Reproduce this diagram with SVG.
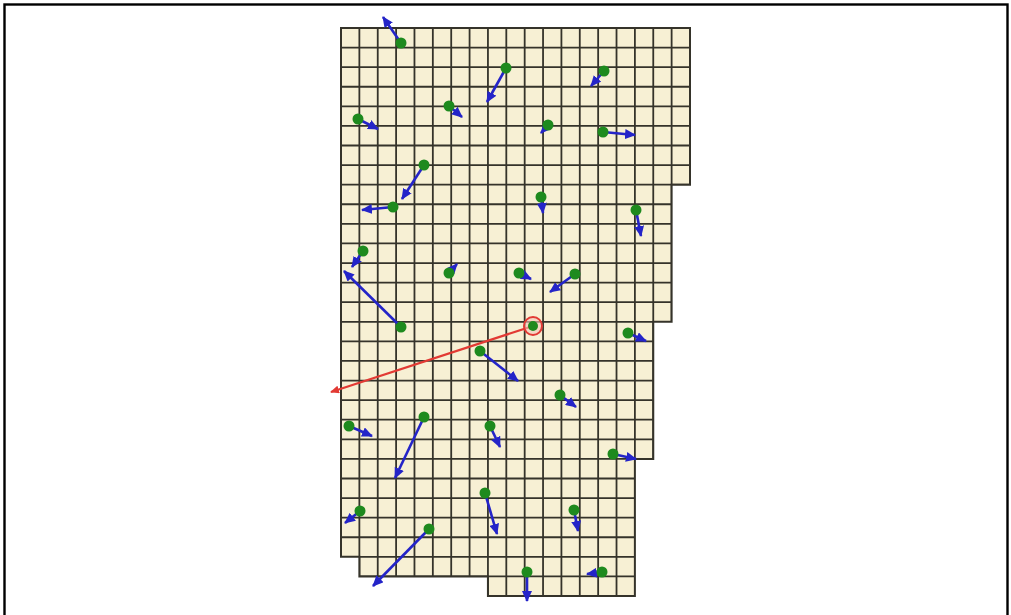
<svg xmlns="http://www.w3.org/2000/svg" width="1011" height="615" viewBox="0 0 1011 615">
  <style>
    .grid { fill: none; stroke: #35332a; stroke-width: 1.8; }
    .cellfill { fill: #f7f0d4; }
    .outline { fill: none; stroke: #35332a; stroke-width: 2; }
    .vec { stroke: #2424c8; stroke-width: 2.6; fill: none; marker-end: url(#ab); }
    .dot { fill: #1e8a1e; }
    .red { stroke: #e23a34; stroke-width: 2.2; fill: none; marker-end: url(#ar); }
  </style>
  <defs>
    <marker id="ab" markerUnits="userSpaceOnUse" markerWidth="11" markerHeight="10" refX="10" refY="5" orient="auto">
      <path d="M0,0 L11,5 L0,10 z" fill="#2424c8"/>
    </marker>
    <marker id="ar" markerUnits="userSpaceOnUse" markerWidth="9" markerHeight="8" refX="8" refY="4" orient="auto">
      <path d="M0,0 L9,4 L0,8 z" fill="#e23a34"/>
    </marker>
    <clipPath id="shape">
      <polygon points="341,28 690,28 690,184.69 671.62,184.69 671.62,321.79 653.26,321.79 653.26,458.89 634.89,458.89 634.89,596 487.94,596 487.94,576.41 359.37,576.41 359.37,556.82 341,556.82"/>
    </clipPath>
  </defs>
  <rect x="0" y="0" width="1011" height="615" fill="#ffffff"/>
  <rect x="4.5" y="4.5" width="1003" height="620" fill="none" stroke="#000" stroke-width="2.4"/>

  <g id="grid">
    <polygon class="cellfill" points="341,28 690,28 690,184.69 671.62,184.69 671.62,321.79 653.26,321.79 653.26,458.89 634.89,458.89 634.89,596 487.94,596 487.94,576.41 359.37,576.41 359.37,556.82 341,556.82"/>
    <path class="grid" clip-path="url(#shape)" d="M341,28V596 M359.37,28V596 M377.74,28V596 M396.1,28V596 M414.47,28V596 M432.84,28V596 M451.21,28V596 M469.58,28V596 M487.94,28V596 M506.31,28V596 M524.68,28V596 M543.05,28V596 M561.42,28V596 M579.78,28V596 M598.15,28V596 M616.52,28V596 M634.89,28V596 M653.26,28V596 M671.62,28V596 M690,28V596 M341,28H690 M341,47.59H690 M341,67.17H690 M341,86.76H690 M341,106.34H690 M341,125.93H690 M341,145.52H690 M341,165.1H690 M341,184.69H690 M341,204.27H690 M341,223.86H690 M341,243.45H690 M341,263.03H690 M341,282.62H690 M341,302.2H690 M341,321.79H690 M341,341.38H690 M341,360.96H690 M341,380.55H690 M341,400.13H690 M341,419.72H690 M341,439.31H690 M341,458.89H690 M341,478.48H690 M341,498.06H690 M341,517.65H690 M341,537.24H690 M341,556.82H690 M341,576.41H690 M341,596H690"/>
    <polygon class="outline" points="341,28 690,28 690,184.69 671.62,184.69 671.62,321.79 653.26,321.79 653.26,458.89 634.89,458.89 634.89,596 487.94,596 487.94,576.41 359.37,576.41 359.37,556.82 341,556.82"/>
  </g>

  <g id="connectors">
    <line class="vec" x1="401" y1="43" x2="383" y2="17"/>
    <line class="vec" x1="506" y1="68" x2="487" y2="102"/>
    <line class="vec" x1="449" y1="106" x2="462" y2="117"/>
    <line class="vec" x1="358" y1="119" x2="378" y2="129"/>
    <line class="vec" x1="604" y1="71" x2="591" y2="86"/>
    <line class="vec" x1="548" y1="125" x2="541" y2="133"/>
    <line class="vec" x1="603" y1="132" x2="635" y2="135"/>
    <line class="vec" x1="424" y1="165" x2="402" y2="199"/>
    <line class="vec" x1="393" y1="207" x2="362" y2="210"/>
    <line class="vec" x1="363" y1="251" x2="352" y2="267"/>
    <line class="vec" x1="401" y1="327" x2="344" y2="271"/>
    <line class="vec" x1="449" y1="273" x2="457" y2="264"/>
    <line class="vec" x1="519" y1="273" x2="531" y2="279"/>
    <line class="vec" x1="541" y1="197" x2="543" y2="213"/>
    <line class="vec" x1="636" y1="210" x2="641" y2="236"/>
    <line class="vec" x1="575" y1="274" x2="550" y2="292"/>
    <line class="vec" x1="628" y1="333" x2="646" y2="341"/>
    <line class="vec" x1="480" y1="351" x2="518" y2="381"/>
    <line class="vec" x1="560" y1="395" x2="576" y2="407"/>
    <line class="vec" x1="424" y1="417" x2="395" y2="478"/>
    <line class="vec" x1="349" y1="426" x2="372" y2="436"/>
    <line class="vec" x1="490" y1="426" x2="500" y2="447"/>
    <line class="vec" x1="613" y1="454" x2="636" y2="459"/>
    <line class="vec" x1="485" y1="493" x2="497" y2="534"/>
    <line class="vec" x1="360" y1="511" x2="345" y2="523"/>
    <line class="vec" x1="429" y1="529" x2="373" y2="586"/>
    <line class="vec" x1="574" y1="510" x2="578" y2="531"/>
    <line class="vec" x1="527" y1="572" x2="527" y2="601"/>
    <line class="vec" x1="602" y1="572" x2="587" y2="574"/>
    <line class="red" x1="533" y1="326" x2="331" y2="392"/>
  </g>

  <g id="p1"><circle class="dot" cx="401" cy="43" r="5.5"/></g>
  <g id="p2"><circle class="dot" cx="506" cy="68" r="5.5"/></g>
  <g id="p3"><circle class="dot" cx="449" cy="106" r="5.5"/></g>
  <g id="p4"><circle class="dot" cx="358" cy="119" r="5.5"/></g>
  <g id="p5"><circle class="dot" cx="604" cy="71" r="5.5"/></g>
  <g id="p6"><circle class="dot" cx="548" cy="125" r="5.5"/></g>
  <g id="p7"><circle class="dot" cx="603" cy="132" r="5.5"/></g>
  <g id="p8"><circle class="dot" cx="424" cy="165" r="5.5"/></g>
  <g id="p9"><circle class="dot" cx="393" cy="207" r="5.5"/></g>
  <g id="p10"><circle class="dot" cx="363" cy="251" r="5.5"/></g>
  <g id="p11"><circle class="dot" cx="401" cy="327" r="5.5"/></g>
  <g id="p12"><circle class="dot" cx="449" cy="273" r="5.5"/></g>
  <g id="p13"><circle class="dot" cx="519" cy="273" r="5.5"/></g>
  <g id="p14"><circle class="dot" cx="541" cy="197" r="5.5"/></g>
  <g id="p15"><circle class="dot" cx="636" cy="210" r="5.5"/></g>
  <g id="p16"><circle class="dot" cx="575" cy="274" r="5.5"/></g>
  <g id="p17"><circle cx="533" cy="326" r="9" fill="#f4c4b8" fill-opacity="0.6" stroke="#e23a34" stroke-width="2"/><circle class="dot" cx="533" cy="326" r="5"/></g>
  <g id="p18"><circle class="dot" cx="628" cy="333" r="5.5"/></g>
  <g id="p19"><circle class="dot" cx="480" cy="351" r="5.5"/></g>
  <g id="p20"><circle class="dot" cx="560" cy="395" r="5.5"/></g>
  <g id="p21"><circle class="dot" cx="424" cy="417" r="5.5"/></g>
  <g id="p22"><circle class="dot" cx="349" cy="426" r="5.5"/></g>
  <g id="p23"><circle class="dot" cx="490" cy="426" r="5.5"/></g>
  <g id="p24"><circle class="dot" cx="613" cy="454" r="5.5"/></g>
  <g id="p25"><circle class="dot" cx="485" cy="493" r="5.5"/></g>
  <g id="p26"><circle class="dot" cx="360" cy="511" r="5.5"/></g>
  <g id="p27"><circle class="dot" cx="429" cy="529" r="5.5"/></g>
  <g id="p28"><circle class="dot" cx="574" cy="510" r="5.5"/></g>
  <g id="p29"><circle class="dot" cx="527" cy="572" r="5.5"/></g>
  <g id="p30"><circle class="dot" cx="602" cy="572" r="5.5"/></g>
</svg>
